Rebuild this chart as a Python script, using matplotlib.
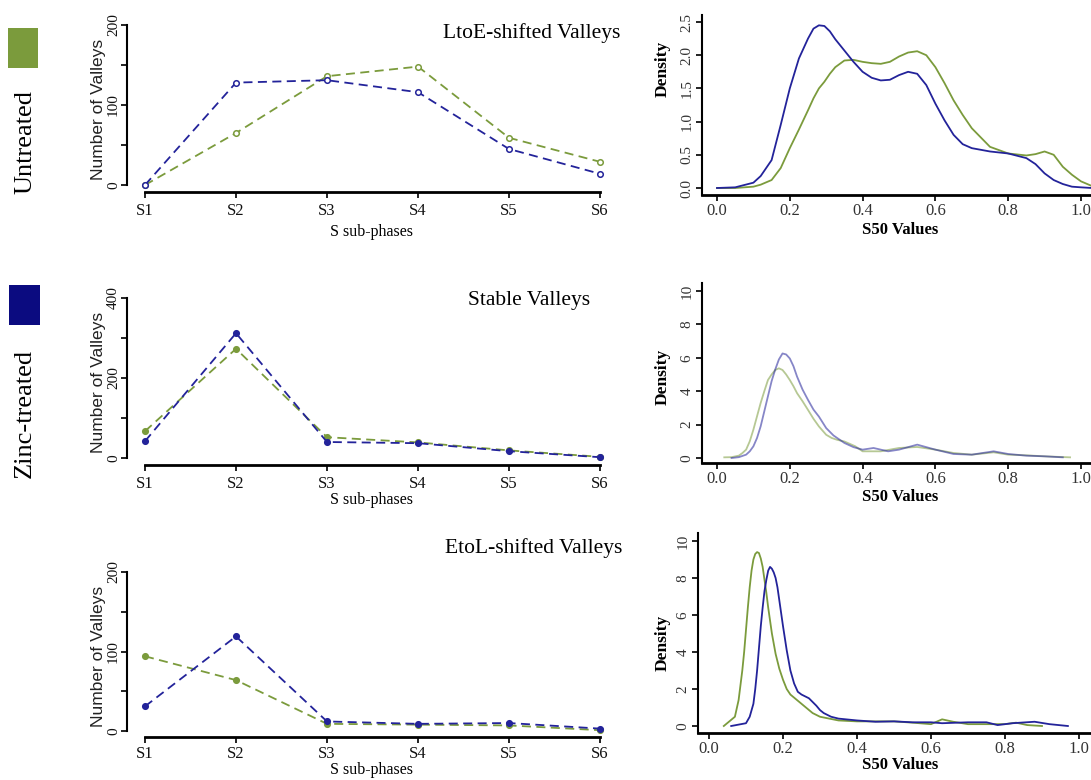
"""Valley counts per S sub-phase and S50 density curves, untreated vs zinc-treated."""
import matplotlib
matplotlib.use("Agg")
import matplotlib.pyplot as plt
from matplotlib.patches import Rectangle

W, H = 1091, 780

phases = ["S1", "S2", "S3", "S4", "S5", "S6"]

# valley counts read from the left column
ltoe_untreated = [0, 65, 136, 148, 59, 29]
ltoe_zinc = [0, 128, 131, 116, 45, 14]
stable_untreated = [67, 273, 52, 39, 19, 3]
stable_zinc = [42, 312, 40, 37, 17, 2]
etol_untreated = [94, 64, 9, 8, 7, 1]
etol_zinc = [31, 119, 12, 9, 10, 3]

# density curves read from the right column (x = S50 value, y = density)
ltoe_x = [0.0, 0.05, 0.1, 0.12, 0.15, 0.175, 0.2, 0.225, 0.25, 0.265, 0.28, 0.295,
          0.31, 0.325, 0.35, 0.375, 0.4, 0.425, 0.45, 0.475, 0.5, 0.525, 0.55,
          0.575, 0.6, 0.625, 0.65, 0.675, 0.7, 0.75, 0.8, 0.85, 0.875, 0.9, 0.925,
          0.95, 0.975, 1.0, 1.03]
ltoe_zinc_d = [0.0, 0.01, 0.08, 0.18, 0.42, 0.95, 1.5, 1.95, 2.25, 2.4, 2.45, 2.44,
               2.36, 2.24, 2.07, 1.9, 1.75, 1.66, 1.62, 1.63, 1.7, 1.75, 1.72,
               1.55, 1.27, 1.02, 0.8, 0.66, 0.6, 0.55, 0.52, 0.45, 0.36, 0.22, 0.12,
               0.06, 0.02, 0.01, 0.0]
ltoe_untr_d = [0.0, 0.0, 0.02, 0.05, 0.12, 0.3, 0.6, 0.88, 1.17, 1.35, 1.5, 1.6,
               1.72, 1.82, 1.92, 1.93, 1.9, 1.88, 1.87, 1.9, 1.98, 2.04, 2.06,
               2.0, 1.82, 1.58, 1.32, 1.1, 0.9, 0.62, 0.52, 0.49, 0.51, 0.55, 0.5,
               0.32, 0.2, 0.1, 0.03]

stable_zinc_x = [0.04, 0.06, 0.08, 0.09, 0.1, 0.11, 0.12, 0.13, 0.14, 0.15,
                 0.16, 0.17, 0.18, 0.19, 0.2, 0.21, 0.22, 0.235, 0.25, 0.265,
                 0.28, 0.3, 0.32, 0.35, 0.375, 0.4, 0.43, 0.47, 0.5, 0.55,
                 0.6, 0.65, 0.7, 0.76, 0.8, 0.85, 0.9, 0.95]
stable_zinc_d = [0.0, 0.05, 0.2, 0.4, 0.7, 1.2, 1.9, 2.8, 3.7, 4.6,
                 5.3, 5.9, 6.26, 6.2, 5.96, 5.5, 4.87, 4.1, 3.48, 2.9,
                 2.48, 1.79, 1.35, 0.9, 0.65, 0.5, 0.6, 0.4, 0.5, 0.8,
                 0.5, 0.24, 0.2, 0.4, 0.24, 0.14, 0.1, 0.04]
stable_untr_x = [0.02, 0.04, 0.06, 0.07, 0.08, 0.09, 0.1, 0.11, 0.12, 0.13,
                 0.14, 0.15, 0.16, 0.17, 0.18, 0.19, 0.2, 0.21, 0.22, 0.235,
                 0.25, 0.265, 0.28, 0.3, 0.315, 0.33, 0.35, 0.38, 0.4, 0.45,
                 0.5, 0.55, 0.6, 0.65, 0.7, 0.76, 0.8, 0.85, 0.9, 0.97]
stable_untr_d = [0.04, 0.05, 0.14, 0.3, 0.5, 1.0, 1.7, 2.5, 3.3, 4.0,
                 4.67, 5.0, 5.27, 5.37, 5.27, 5.0, 4.67, 4.3, 3.88, 3.4,
                 2.88, 2.35, 1.89, 1.39, 1.2, 1.09, 0.99, 0.7, 0.4, 0.4,
                 0.6, 0.66, 0.5, 0.3, 0.2, 0.34, 0.2, 0.16, 0.1, 0.04]

etol_untr_x = [0.04, 0.07, 0.08, 0.09, 0.095, 0.1, 0.105, 0.11, 0.115, 0.12,
               0.125, 0.13, 0.135, 0.14, 0.145, 0.15, 0.155, 0.16, 0.165, 0.17,
               0.18, 0.19, 0.2, 0.21, 0.22, 0.235, 0.25, 0.265, 0.28, 0.3,
               0.35, 0.4, 0.5, 0.55, 0.6, 0.63, 0.66, 0.7, 0.75, 0.8,
               0.83, 0.86, 0.9]
etol_untr_d = [0.0, 0.5, 1.4, 3.0, 4.0, 5.2, 6.4, 7.5, 8.4, 9.0,
               9.3, 9.4, 9.35, 9.05, 8.6, 7.9, 7.2, 6.4, 5.7, 5.0,
               3.9, 3.1, 2.5, 2.0, 1.7, 1.45, 1.2, 0.95, 0.7, 0.5,
               0.3, 0.25, 0.25, 0.18, 0.1, 0.36, 0.23, 0.1, 0.1, 0.1,
               0.18, 0.05, 0.0]
etol_zinc_x = [0.06, 0.1, 0.11, 0.12, 0.125, 0.13, 0.135, 0.14, 0.145, 0.15,
               0.155, 0.16, 0.165, 0.17, 0.175, 0.18, 0.185, 0.19, 0.195, 0.2,
               0.21, 0.22, 0.23, 0.24, 0.25, 0.26, 0.27, 0.28, 0.29, 0.3,
               0.31, 0.33, 0.35, 0.4, 0.45, 0.5, 0.55, 0.6, 0.63, 0.7,
               0.75, 0.78, 0.82, 0.88, 0.92, 0.97]
etol_zinc_d = [0.0, 0.15, 0.5, 1.2, 2.0, 3.0, 4.2, 5.4, 6.4, 7.3,
               7.9, 8.4, 8.6, 8.5, 8.3, 8.0, 7.5, 6.8, 6.1, 5.4,
               4.1, 3.0, 2.3, 1.85, 1.7, 1.6, 1.5, 1.3, 1.1, 0.86,
               0.7, 0.5, 0.4, 0.3, 0.23, 0.25, 0.2, 0.2, 0.15, 0.2,
               0.2, 0.05, 0.15, 0.23, 0.1, 0.0]

titles = ["LtoE-shifted Valleys", "Stable Valleys", "EtoL-shifted Valleys"]

GREEN = "#7b9b3c"
BLUE = "#23239a"
SERIF = "Liberation Serif"
SANS = "Liberation Sans"


def px_axes(fig, left, top, right, bottom):
    return fig.add_axes([left / W, 1 - bottom / H, (right - left) / W, (bottom - top) / H])


def style(ax):
    for s in ("top", "right"):
        ax.spines[s].set_visible(False)
    ax.spines["left"].set_linewidth(1.5)
    ax.spines["bottom"].set_linewidth(2.0)
    ax.tick_params(direction="out", length=4, width=1.3, colors="#111")


fig = plt.figure(figsize=(W / 100, H / 100), dpi=100)

# ---- left column: counts per sub-phase ----
left_specs = [
    # (untreated, zinc, ymax, step, top px, zero px, bottom px, xlabel px, tick pad, hollow)
    (ltoe_untreated, ltoe_zinc, 200, 50, 25, 185, 192, 232, 4, True),
    (stable_untreated, stable_zinc, 400, 100, 298, 458, 465, 500, 4, False),
    (etol_untreated, etol_zinc, 200, 50, 572, 731, 737, 770, 2.5, False),
]
xs = list(range(1, 7))
px_per_step = (600 - 145) / 5

for untr, zinc, ymax, step, top, zero, bottom, xl_y, pad, hollow in left_specs:
    ax = px_axes(fig, 127, top, 600, bottom)
    style(ax)
    ppu = (zero - top) / ymax
    ax.set_ylim(-(bottom - zero) / ppu, ymax)
    ax.set_xlim(1 - (145 - 127) / px_per_step, 6)
    for vals, col, z in ((untr, GREEN, 3), (zinc, BLUE, 4)):
        ax.plot(xs, vals, color=col, lw=1.3, dashes=(5, 3), marker="o", ms=4,
                mfc="white" if hollow else col, mec=col, mew=1.1,
                clip_on=False, zorder=z)
    ax.spines["left"].set_bounds(0, ymax)
    ax.spines["bottom"].set_bounds(1, 6)
    ticks = list(range(0, ymax + 1, step))
    ax.set_yticks(ticks)
    ax.set_yticklabels([str(t) if t % (2 * step) == 0 else "" for t in ticks],
                       rotation=90, va="center", family=SERIF, fontsize=11)
    ax.set_xticks(xs)
    ax.set_xticklabels(phases, family=SERIF, fontsize=12)
    ax.tick_params(axis="x", pad=pad)
    ax.tick_params(axis="y", pad=1)
    fig.text(372 / W, 1 - xl_y / H, "S sub-phases", family=SERIF,
             fontsize=11.5, ha="center", va="center")
    fig.text(98 / W, 1 - (top + (zero - top) * 0.53) / H, "Number of Valleys",
             family=SANS, fontsize=12.5, rotation=90, ha="center", va="center",
             color="#222")

fig.text(620 / W, 1 - 33 / H, titles[0], family=SERIF, fontsize=15.5, ha="right", va="center")
fig.text(590 / W, 1 - 300 / H, titles[1], family=SERIF, fontsize=15.5, ha="right", va="center")
fig.text(622 / W, 1 - 548 / H, titles[2], family=SERIF, fontsize=15.5, ha="right", va="center")

# ---- right column: S50 density curves ----
right_specs = [
    # (curves, yticks, fmt, left, top, bottom, x0 px, x1 px, zero px, ymax px,
    #  alpha, xlabel px, ylabel px)
    ([(ltoe_x, ltoe_untr_d, GREEN), (ltoe_x, ltoe_zinc_d, BLUE)],
     [0, 0.5, 1.0, 1.5, 2.0, 2.5], "{:.1f}", 702, 15, 195, 717, 1081, 188, 22,
     1.0, 230, 69),
    ([(stable_untr_x, stable_untr_d, GREEN), (stable_zinc_x, stable_zinc_d, BLUE)],
     [0, 2, 4, 6, 8, 10], "{:d}", 702, 283, 463, 717, 1081, 458, 291,
     0.55, 497, 377),
    ([(etol_untr_x, etol_untr_d, GREEN), (etol_zinc_x, etol_zinc_d, BLUE)],
     [0, 2, 4, 6, 8, 10], "{:d}", 698, 533, 733, 709, 1079, 726, 541,
     1.0, 765, 643),
]

for curves, yt, fmt, left, top, bottom, x0, x1, zero, ytop, alpha, xl_y, yl_y in right_specs:
    ax = px_axes(fig, left, top, W, bottom)
    style(ax)
    ppx = x1 - x0
    ax.set_xlim(-(x0 - left) / ppx, (W - x0) / ppx)
    ppy = (zero - ytop) / yt[-1]
    ax.set_ylim(-(bottom - zero) / ppy, yt[-1] + (ytop - top) / ppy)
    for cx, cy, col in curves:
        ax.plot(cx, cy, color=col, lw=1.3, alpha=alpha, solid_joinstyle="round")
    ax.set_yticks(yt)
    ax.set_yticklabels([fmt.format(t) for t in yt], rotation=90, va="center",
                       family=SERIF, fontsize=11, color="#333")
    xt = [0.0, 0.2, 0.4, 0.6, 0.8, 1.0]
    ax.set_xticks(xt)
    ax.set_xticklabels([f"{t:.1f}" for t in xt], family=SERIF, fontsize=12, color="#333")
    ax.tick_params(axis="x", pad=2)
    ax.tick_params(axis="y", pad=2)
    fig.text(900 / W, 1 - xl_y / H, "S50 Values", family=SERIF,
             fontsize=12, fontweight="bold", ha="center", va="center")
    fig.text(663 / W, 1 - yl_y / H, "Density", family=SERIF,
             fontsize=12.5, fontweight="bold", rotation=90, ha="center", va="center")

# ---- treatment key on the far left ----
fig.add_artist(Rectangle((8 / W, 1 - 68 / H), 30 / W, 40 / H, transform=fig.transFigure,
                         facecolor=GREEN, edgecolor="none"))
fig.add_artist(Rectangle((9 / W, 1 - 325 / H), 31 / W, 40 / H, transform=fig.transFigure,
                         facecolor="#0b0b80", edgecolor="none"))
fig.text(25 / W, 1 - 142 / H, "Untreated", family=SERIF, fontsize=19, rotation=90,
         ha="center", va="center")
fig.text(25 / W, 1 - 413 / H, "Zinc-treated", family=SERIF, fontsize=19, rotation=90,
         ha="center", va="center")

fig.savefig("out.png", dpi=100)
